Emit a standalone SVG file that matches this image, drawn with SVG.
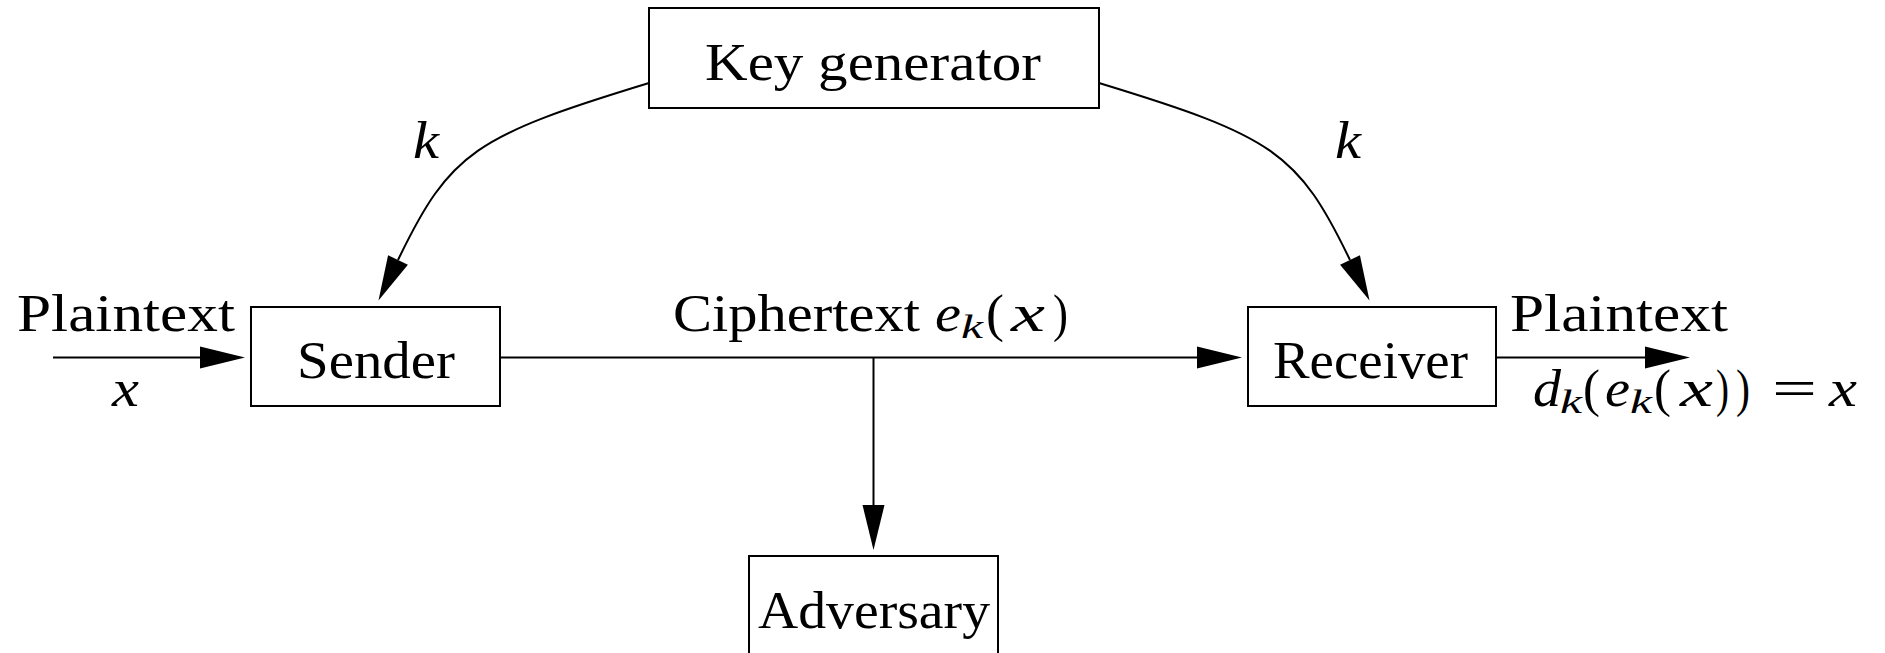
<svg xmlns="http://www.w3.org/2000/svg" width="1885" height="653" viewBox="0 0 1885 653">
<style>
  .box { fill: #fff; stroke: #000; stroke-width: 2; }
  .edge { fill: none; stroke: #000; stroke-width: 2; }
  text { font-family: "Liberation Serif", "Times New Roman", serif; font-size: 52px; fill: #000; }
  .it { font-style: italic; }
  .sub { font-style: italic; font-size: 33px; }
</style>
<defs>
  <marker id="ah" markerUnits="userSpaceOnUse" markerWidth="50" markerHeight="30" refX="0" refY="0" orient="auto" overflow="visible">
    <path d="M0,-11 L45,0 L0,11 Z" fill="#000"/>
  </marker>
</defs>
<rect width="1885" height="653" fill="#fff"/>
<g id="connectors">
  <path class="edge" d="M53,357.5 L200,357.5" marker-end="url(#ah)"/>
  <path class="edge" d="M500,357.5 L1197,357.5" marker-end="url(#ah)"/>
  <path class="edge" d="M1496,357.5 L1645,357.5" marker-end="url(#ah)"/>
  <path class="edge" d="M873.5,357.5 L873.5,505" marker-end="url(#ah)"/>
  <path class="edge" d="M649,83 C475,136 450,152 398,260" marker-end="url(#ah)"/>
  <path class="edge" d="M1099,83 C1273,136 1298,152 1350,260" marker-end="url(#ah)"/>
  <text x="17" y="331" textLength="218" lengthAdjust="spacingAndGlyphs">Plaintext</text>
  <text class="it" x="112" y="406" textLength="27" lengthAdjust="spacingAndGlyphs">x</text>
  <text y="331"><tspan x="673" textLength="247" lengthAdjust="spacingAndGlyphs">Ciphertext</tspan><tspan class="it" x="935" textLength="26" lengthAdjust="spacingAndGlyphs">e</tspan><tspan class="sub" x="961" dy="7" textLength="22" lengthAdjust="spacingAndGlyphs">k</tspan><tspan x="986" dy="-7" textLength="18" lengthAdjust="spacingAndGlyphs">(</tspan><tspan class="it" x="1011" textLength="34" lengthAdjust="spacingAndGlyphs">x</tspan><tspan x="1053" textLength="15" lengthAdjust="spacingAndGlyphs">)</tspan></text>
  <text x="1510" y="331" textLength="218" lengthAdjust="spacingAndGlyphs">Plaintext</text>
  <text y="406"><tspan class="it" x="1533" textLength="28" lengthAdjust="spacingAndGlyphs">d</tspan><tspan class="sub" x="1560" dy="7" textLength="22" lengthAdjust="spacingAndGlyphs">k</tspan><tspan x="1583" dy="-7" textLength="17" lengthAdjust="spacingAndGlyphs">(</tspan><tspan class="it" x="1605" textLength="25" lengthAdjust="spacingAndGlyphs">e</tspan><tspan class="sub" x="1630" dy="7" textLength="22" lengthAdjust="spacingAndGlyphs">k</tspan><tspan x="1654" dy="-7" textLength="17" lengthAdjust="spacingAndGlyphs">(</tspan><tspan class="it" x="1680" textLength="33" lengthAdjust="spacingAndGlyphs">x</tspan><tspan x="1716" textLength="13" lengthAdjust="spacingAndGlyphs">)</tspan><tspan x="1736" textLength="14" lengthAdjust="spacingAndGlyphs">)</tspan><tspan x="1772" textLength="45" lengthAdjust="spacingAndGlyphs">=</tspan><tspan class="it" x="1829" textLength="28" lengthAdjust="spacingAndGlyphs">x</tspan></text>
  <text class="it" x="413" y="158" textLength="26" lengthAdjust="spacingAndGlyphs">k</text>
  <text class="it" x="1335" y="158" textLength="26" lengthAdjust="spacingAndGlyphs">k</text>
</g>
<g id="keygen">
  <rect class="box" x="649" y="8" width="450" height="100"/>
  <text x="705" y="80" textLength="336" lengthAdjust="spacingAndGlyphs">Key generator</text>
</g>
<g id="sender">
  <rect class="box" x="251" y="307" width="249" height="99"/>
  <text x="297" y="378" textLength="158" lengthAdjust="spacingAndGlyphs">Sender</text>
</g>
<g id="receiver">
  <rect class="box" x="1248" y="307" width="248" height="99"/>
  <text x="1273" y="378" textLength="195" lengthAdjust="spacingAndGlyphs">Receiver</text>
</g>
<g id="adversary">
  <rect class="box" x="749" y="556" width="249" height="102"/>
  <text x="758" y="628" textLength="232" lengthAdjust="spacingAndGlyphs">Adversary</text>
</g>
</svg>
